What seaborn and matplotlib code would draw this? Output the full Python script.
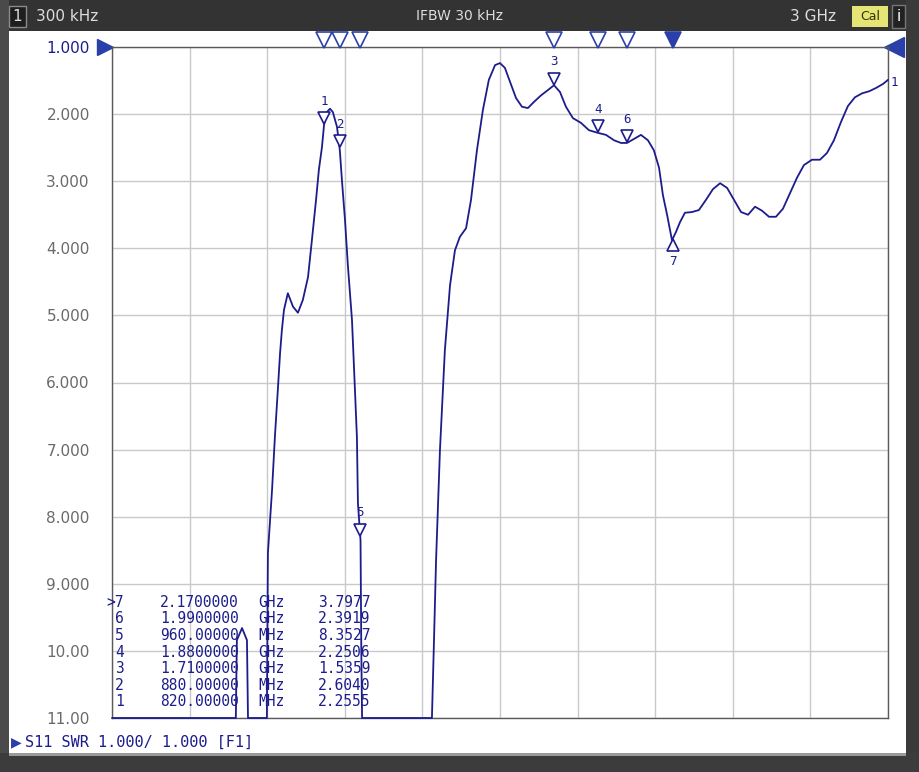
import numpy as np
import pandas as pd
import matplotlib
matplotlib.use('Agg')
import matplotlib.pyplot as plt
import matplotlib.transforms as mtrans
from matplotlib.patches import Rectangle
import seaborn as sns

# S11 SWR trace (MHz, SWR). 11.0 = pinned at the screen edge.
freq_mhz = [0.3, 479, 483, 503, 522, 526, 599, 603, 619, 630, 642, 650, 657, 665, 680, 700,
            719, 738, 758, 773, 789, 800, 812, 820, 831, 843, 854, 870, 881, 889, 901, 912,
            928, 939, 947, 951, 961, 964, 967, 1237, 1245, 1253, 1268, 1287, 1307, 1326,
            1345, 1369, 1388, 1411, 1434, 1457, 1481, 1500, 1519, 1539, 1562, 1585, 1608,
            1631, 1659, 1686, 1709, 1732, 1755, 1782, 1813, 1844, 1879, 1910, 1941, 1968,
            1991, 2018, 2045, 2072, 2095, 2115, 2130, 2146, 2165, 2180, 2196, 2215, 2242,
            2269, 2296, 2323, 2351, 2378, 2405, 2432, 2459, 2486, 2513, 2540, 2567, 2594,
            2621, 2648, 2675, 2706, 2737, 2764, 2791, 2818, 2845, 2872, 2900, 2927, 2954,
            2981, 3000]
swr = [11.0, 11.0, 9.84, 9.66, 9.84, 11.0, 11.0, 8.54, 7.60, 6.81, 6.07, 5.56, 5.22, 4.92,
       4.67, 4.87, 4.96, 4.77, 4.43, 3.88, 3.28, 2.83, 2.49, 2.16, 1.97, 1.92, 1.97, 2.19,
       2.54, 2.98, 3.58, 4.25, 5.07, 6.07, 6.81, 7.80, 8.35, 9.99, 11.0, 11.0, 9.84, 8.65,
       7.01, 5.52, 4.55, 4.03, 3.83, 3.70, 3.28, 2.54, 1.94, 1.49, 1.27, 1.24, 1.31, 1.52,
       1.76, 1.89, 1.91, 1.82, 1.72, 1.64, 1.57, 1.67, 1.89, 2.06, 2.13, 2.24, 2.28, 2.31,
       2.39, 2.43, 2.43, 2.37, 2.31, 2.39, 2.54, 2.80, 3.21, 3.50, 3.88, 3.76, 3.61, 3.47,
       3.46, 3.43, 3.28, 3.12, 3.03, 3.10, 3.28, 3.46, 3.50, 3.38, 3.44, 3.53, 3.53, 3.41,
       3.18, 2.95, 2.76, 2.68, 2.68, 2.58, 2.39, 2.12, 1.88, 1.75, 1.69, 1.66, 1.61, 1.55,
       1.49]

# marker table
marker_ids = [1, 2, 3, 4, 5, 6, 7]
marker_freq_mhz = [820, 880, 1710, 1880, 960, 1990, 2170]
marker_swr = [2.2555, 2.6040, 1.5359, 2.2506, 8.3527, 2.3919, 3.7977]
active_marker = 7

y_ticks = [1, 2, 3, 4, 5, 6, 7, 8, 9, 10, 11]
y_tick_labels = ['1.000', '2.000', '3.000', '4.000', '5.000', '6.000', '7.000',
                 '8.000', '9.000', '10.00', '11.00']

start_label = '300 kHz'
stop_label = '3 GHz'
ifbw_label = 'IFBW 30 kHz'
status_label = 'S11 SWR 1.000/ 1.000 [F1]'

W, H = 920, 772
NAVY = '#1c1c8c'
MARK = '#2a3fa8'

sns.set_style('white')
plt.rcParams['font.family'] = ['DejaVu Sans']

fig = plt.figure(figsize=(W / 100, H / 100), dpi=100, facecolor='white')


def px(x, y):
    return x / W, 1 - y / H


def box(x0, y0, x1, y1, color, **kw):
    fig.add_artist(Rectangle(px(x0, y1), (x1 - x0) / W, (y1 - y0) / H,
                             transform=fig.transFigure, facecolor=color,
                             edgecolor=kw.pop('ec', 'none'), lw=kw.pop('lw', 0), **kw))


# window frame
box(0, 0, W, 31, '#333333')
box(0, 0, 9, H, '#4a4a4a')
box(906, 0, W, H, '#3a3a3a')
box(0, 753, W, H, '#3c3c3c')
box(9, 753, 906, 756, '#9a9a9a')
box(9, 6, 26, 27, '#1e1e1e', ec='#8a8a8a', lw=1)
fig.text(*px(17.5, 16.5), '1', color='#dddddd', fontsize=11, ha='center', va='center')
fig.text(*px(36, 16.5), start_label, color='#dddddd', fontsize=11, va='center')
fig.text(*px(460, 16.5), ifbw_label, color='#dddddd', fontsize=10, ha='center', va='center')
fig.text(*px(836, 16.5), stop_label, color='#dddddd', fontsize=11, ha='right', va='center')
box(852, 6, 888, 27, '#e4e477')
fig.text(*px(870, 16.5), 'Cal', color='#333300', fontsize=9, ha='center', va='center')
box(892, 5, 905, 28, '#222222', ec='#777777', lw=1)
fig.text(*px(898.5, 16.5), 'i', color='#ffffff', fontsize=11, ha='center', va='center')

# plot area
x0, y0 = px(112, 718)
x1, y1 = px(888, 47)
ax = fig.add_axes([x0, y0, x1 - x0, y1 - y0])
ax.set_facecolor('white')

df = pd.DataFrame({'freq': freq_mhz, 'swr': swr})
sns.lineplot(data=df, x='freq', y='swr', ax=ax, color=NAVY, linewidth=1.3,
             sort=False, estimator=None, clip_on=False, zorder=5)

ax.set_xlim(0.3, 3000)
ax.set_ylim(11, 1)
ax.set_xticks(np.linspace(0.3, 3000, 11))
ax.set_xticklabels([])
ax.set_yticks(y_ticks)
ax.set_yticklabels(y_tick_labels, fontsize=11, color='#6a6a6a')
ax.get_yticklabels()[0].set_color(NAVY)
ax.tick_params(length=0, pad=16)
ax.set_xlabel('')
ax.set_ylabel('')
ax.grid(True, color='#c9c9c9', linewidth=1)
for s in ax.spines.values():
    s.set_color('#5a5a5a')
    s.set_linewidth(1)

# reference-level arrows
bt = ax.transAxes
ax.plot([-0.009], [1.0], marker='>', ms=12, color=MARK, transform=bt, clip_on=False)
ax.plot([1.008], [1.0], marker='<', ms=15, color=MARK, transform=bt, clip_on=False)

# marker triangles above the grid
xt = ax.get_xaxis_transform()
for mid, f in zip(marker_ids, marker_freq_mhz):
    filled = mid == active_marker
    ax.plot([f], [1.0105], marker='v', ms=11, mew=1.2, mec=MARK,
            mfc=MARK if filled else 'white', transform=xt, clip_on=False, zorder=6)

# marker triangles on the trace
up = mtrans.offset_copy(ax.transData, fig=fig, x=0, y=5, units='points')
down = mtrans.offset_copy(ax.transData, fig=fig, x=0, y=-5, units='points')
for mid, f in zip(marker_ids, marker_freq_mhz):
    yv = np.interp(f, freq_mhz, swr)
    if mid == active_marker:
        ax.plot([f], [yv], marker='^', ms=9, mew=1.2, mec=NAVY, mfc='white',
                transform=down, clip_on=False, zorder=7)
        ax.annotate(str(mid), (f, yv), xytext=(0, -17), textcoords='offset points',
                    ha='center', va='center', fontsize=9, color=NAVY,
                    family='DejaVu Sans Mono', zorder=7)
    else:
        ax.plot([f], [yv], marker='v', ms=9, mew=1.2, mec=NAVY, mfc='white',
                transform=up, clip_on=False, zorder=7)
        ax.annotate(str(mid), (f, yv), xytext=(0, 17), textcoords='offset points',
                    ha='center', va='center', fontsize=9, color=NAVY,
                    family='DejaVu Sans Mono', zorder=7)

# trace number at the right end
ax.annotate('1', (freq_mhz[-1], swr[-1]), xytext=(2, -2), textcoords='offset points',
            ha='left', va='center', fontsize=9, color=NAVY, family='DejaVu Sans Mono',
            annotation_clip=False)

# marker readout table (marker 1 on the bottom row)
row_y = 702
for mid, f, v in zip(marker_ids, marker_freq_mhz, marker_swr):
    if f < 1000:
        ftxt, unit = f'{f:.5f}', 'MHz'
    else:
        ftxt, unit = f'{f / 1000:.7f}', 'GHz'
    tag = f'>{mid}' if mid == active_marker else str(mid)
    kw = dict(color=NAVY, fontsize=10.5, family='DejaVu Sans Mono', va='center')
    fig.text(*px(124, row_y), tag, ha='right', **kw)
    fig.text(*px(160, row_y), ftxt, ha='left', **kw)
    fig.text(*px(258, row_y), unit, ha='left', **kw)
    fig.text(*px(318, row_y), f'{v:.4f}', ha='left', **kw)
    row_y -= 16.6

# status line
fig.text(*px(11, 742), '\u25b6', color=MARK, fontsize=10, va='center')
fig.text(*px(25, 742), status_label, color=NAVY, fontsize=11,
         family='DejaVu Sans Mono', va='center')

fig.savefig('out.png', dpi=100, facecolor=fig.get_facecolor())
